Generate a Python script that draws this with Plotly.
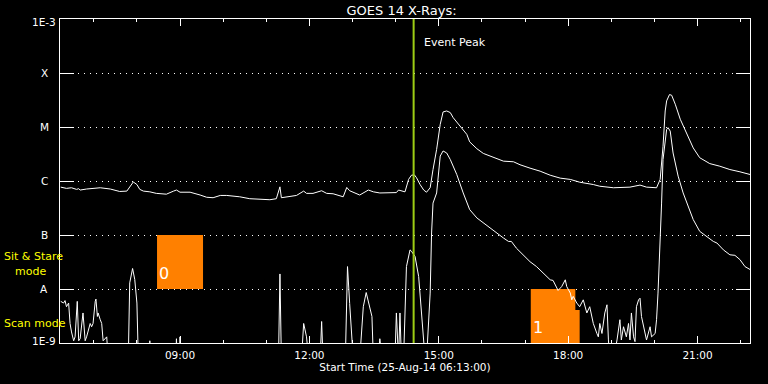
import math
import plotly.graph_objects as go

DATE = "2014-08-25 "

# GOES 14 long channel (1-8 A), W/m^2
long_times = ["06:14","06:22","06:29","06:36","06:39","06:41","06:50","07:09","07:23","07:36",
              "07:46","07:50","07:55","08:00","08:04","08:09","08:18","08:27","08:41","08:51",
              "08:55","09:00","09:14","09:28","09:37","09:46","09:56","10:05","10:23","10:37",
              "10:51","11:05","11:14","11:19","11:21","11:28","11:42","11:52","11:56","12:05",
              "12:17","12:24","12:33","12:47","12:52","12:56","13:10","13:22","13:29","13:38",
              "14:01","14:04","14:08","14:13","14:18","14:22","14:26","14:29","14:34","14:39",
              "14:43","14:48","14:52","14:57","15:02","15:06","15:11","15:16","15:20","15:30",
              "15:39","15:43","15:53","16:02","16:11","16:21","16:30","16:44","16:53","17:07",
              "17:21","17:35","17:49","18:03","18:16","18:35","18:44","19:03","19:26","19:40",
              "19:49","20:03","20:08","20:12","20:15","20:17","20:21","20:24","20:29","20:36",
              "20:45","20:54","21:03","21:17","21:31","21:45","21:59","22:13"]
long_flux = [7.7e-7,7.3e-7,7.5e-7,7.0e-7,7.2e-7,6.8e-7,7.1e-7,7.5e-7,7.1e-7,6.4e-7,
             6.5e-7,7.8e-7,9.6e-7,8.6e-7,7.0e-7,6.5e-7,6.3e-7,5.9e-7,5.7e-7,6.5e-7,
             6.8e-7,6.2e-7,6.2e-7,5.5e-7,5.0e-7,4.9e-7,5.4e-7,5.4e-7,5.1e-7,4.7e-7,
             4.6e-7,4.5e-7,4.7e-7,7.8e-7,4.9e-7,5.1e-7,5.4e-7,6.5e-7,5.9e-7,5.9e-7,
             6.6e-7,5.9e-7,5.8e-7,5.1e-7,7.6e-7,6.6e-7,5.5e-7,6.8e-7,6.3e-7,6.0e-7,
             6.1e-7,6.8e-7,6.6e-7,6.3e-7,1.07e-6,1.28e-6,1.30e-6,1.15e-6,8.6e-7,6.8e-7,
             6.2e-7,7.5e-7,1.63e-6,3.85e-6,1.12e-5,1.90e-5,1.98e-5,1.85e-5,1.49e-5,1.04e-5,
             7.3e-6,5.3e-6,3.96e-6,3.24e-6,2.89e-6,2.62e-6,2.33e-6,2.27e-6,2.00e-6,1.73e-6,
             1.52e-6,1.28e-6,1.13e-6,1.07e-6,9.5e-7,8.6e-7,8.0e-7,7.5e-7,7.7e-7,8.4e-7,
             7.7e-7,7.5e-7,1.07e-6,4.4e-6,1.98e-5,3.04e-5,3.99e-5,3.87e-5,2.64e-5,1.39e-5,
             7.3e-6,4.1e-6,2.7e-6,2.1e-6,1.88e-6,1.63e-6,1.48e-6,1.32e-6]

# GOES 14 short channel (0.5-4 A), W/m^2
short_times = ["06:14","06:18","06:20","06:22","06:25","06:27","06:29","06:32","06:34","06:37",
               "06:39","06:41","06:45","06:48","06:50","06:55","06:57","06:59","07:02","07:03",
               "07:05","07:06","07:09","07:11","07:13","07:18","07:20","07:48","07:50","07:54",
               "07:57","08:00","08:02","08:17","08:18","08:19","08:54","08:55","08:56","08:59",
               "09:00","09:01","11:17","11:19","11:21","11:49","11:52","11:54","11:56","11:59",
               "12:15","12:17","12:19","12:50","12:53","12:56","13:01","13:10","13:13","13:15",
               "13:19","13:22","13:27","13:29","13:36","13:38","13:41","13:59","14:01","14:04",
               "14:06","14:08","14:11","14:15","14:20","14:22","14:27","14:32","14:36","14:41",
               "14:43","14:45","14:48","14:50","14:52","14:57","15:02","15:06","15:11","15:16",
               "15:25","15:34","15:43","15:53","16:02","16:11","16:21","16:30","16:37","16:41",
               "16:48","16:58","17:07","17:16","17:25","17:35","17:39","17:46","17:51","17:56",
               "17:58","18:03","18:05","18:07","18:12","18:16","18:21","18:26","18:30","18:35",
               "18:40","18:42","18:44","18:47","18:51","18:54","18:56","18:58","19:03","19:08",
               "19:12","19:14","19:17","19:21","19:24","19:26","19:28","19:31","19:33","19:35",
               "19:38","19:40","19:42","19:45","19:49","19:54","19:56","20:01","20:03","20:05",
               "20:08","20:10","20:12","20:15","20:17","20:19","20:22","20:26","20:33","20:40",
               "20:47","20:54","21:03","21:13","21:22","21:27","21:36","21:45","21:52","21:59",
               "22:06","22:13"]
short_flux = [5.9e-9,5.5e-9,6.1e-9,4.7e-9,5.5e-9,2.3e-9,1.6e-9,1.1e-9,1.3e-9,5.9e-9,
              1.1e-9,1.2e-9,3.6e-9,1.1e-9,1.3e-9,2.3e-9,2.0e-9,2.3e-9,5.9e-9,6.5e-9,
              3.1e-9,3.6e-9,2.7e-9,2.3e-9,1.1e-9,1.3e-9,5e-10,5e-10,1.3e-8,2.4e-8,
              1.5e-8,5.5e-9,5e-10,5e-10,1.1e-9,5e-10,5e-10,1.2e-9,5e-10,5e-10,
              1.3e-9,5e-10,5e-10,1.9e-8,5e-10,5e-10,2.3e-9,1.6e-9,1.3e-9,5e-10,
              5e-10,2.5e-9,5e-10,5e-10,2.6e-8,5.4e-9,5e-10,5e-10,1.7e-9,4.7e-9,
              8.6e-9,5.9e-9,3.1e-9,5e-10,5e-10,1.2e-9,5e-10,5e-10,3.6e-9,5e-10,
              3.6e-9,5e-10,5e-10,2.6e-8,5.3e-8,5.0e-8,4.0e-8,1.7e-8,3.1e-9,5e-10,
              5e-10,2.0e-9,8.4e-9,1.09e-7,3.9e-7,6.0e-7,2.9e-6,3.6e-6,3.3e-6,2.5e-6,
              1.32e-6,6.0e-7,2.95e-7,2.07e-7,1.67e-7,1.35e-7,1.09e-7,8.8e-8,7.6e-8,7.6e-8,
              5.7e-8,4.3e-8,3.2e-8,2.6e-8,2.0e-8,1.48e-8,1.44e-8,9.4e-9,1.11e-8,1.48e-8,
              1.11e-8,8.4e-9,6.3e-9,7.3e-9,5.5e-9,4.7e-9,6.3e-9,3.6e-9,4.7e-9,2.3e-9,
              1.5e-9,1.3e-9,2.3e-9,1.5e-9,3.6e-9,5.1e-9,1.14e-9,5e-10,5e-10,1.14e-9,
              2.7e-9,1.14e-9,2.0e-9,1.3e-9,2.3e-9,1.14e-9,3.6e-9,1.3e-9,1.06e-9,4.7e-9,
              6.3e-9,6.75e-9,3.1e-9,2.0e-9,1.14e-9,2.0e-9,1.3e-9,1.5e-9,2.7e-9,8.4e-9,
              6.2e-8,3.9e-7,2.5e-6,5.5e-6,9.0e-6,9.7e-6,8.4e-6,3.3e-6,1.23e-6,6.0e-7,
              3.4e-7,1.93e-7,1.17e-7,9.4e-8,7.6e-8,7.1e-8,5.3e-8,4.3e-8,4.2e-8,3.5e-8,
              2.6e-8,2.3e-8]

y_tick_vals = [1e-9, 1e-8, 1e-7, 1e-6, 1e-5, 1e-4, 1e-3]
y_tick_labels = ["1E-9", "A", "B", "C", "M", "X", "1E-3"]
x_tick_labels = ["09:00", "12:00", "15:00", "18:00", "21:00"]
x_start, x_end = "06:13", "22:13"
event_peak_time = "14:25"

# IRIS observation windows (polygons: times, fluxes)
obs_names = ["0", "1"]
obs_times = [["08:28", "08:28", "09:32", "09:32"],
             ["17:08", "17:08", "18:10", "18:10", "18:16", "18:16"]]
obs_flux = [[1e-8, 1e-7, 1e-7, 1e-8],
            [1e-9, 1e-8, 1e-8, 4.1e-9, 4.1e-9, 1e-9]]
mode_labels = [("Sit & Stare", 2, 257), ("mode", 13, 271.5), ("Scan mode", 2, 323.5)]

FONT = "DejaVu Sans"
fig = go.Figure()

for t, f in zip(obs_times, obs_flux):
    fig.add_trace(go.Scatter(x=[DATE + s for s in t], y=f, mode="lines", fill="toself",
                             fillcolor="#FF8000", line=dict(color="#FF8000", width=0),
                             hoverinfo="skip"))

fig.add_trace(go.Scatter(x=[DATE + t for t in long_times], y=long_flux, mode="lines",
                         line=dict(color="white", width=1), name="1-8 A"))
fig.add_trace(go.Scatter(x=[DATE + t for t in short_times], y=short_flux, mode="lines",
                         line=dict(color="white", width=1), name="0.5-4 A"))

fig.add_shape(type="line", xref="x", yref="paper",
              x0=DATE + event_peak_time, x1=DATE + event_peak_time, y0=0, y1=1,
              line=dict(color="#9CCC14", width=2))

ann = []
ann.append(dict(x=DATE + event_peak_time, y=0.928, xref="x", yref="paper", text="Event Peak",
                showarrow=False, xanchor="left", yanchor="middle", xshift=8,
                font=dict(size=11, color="white", family=FONT)))
for v, lab in zip(y_tick_vals, y_tick_labels):
    ann.append(dict(x=-16 / 690, y=math.log10(v), xref="paper", yref="y", text=lab,
                    showarrow=False, xanchor="center", yanchor="middle",
                    yshift=(-3 if v == max(y_tick_vals) else (2 if v == min(y_tick_vals) else 0)),
                    font=dict(size=10.5, color="white", family=FONT)))
for text, px, py in mode_labels:
    ann.append(dict(x=(px - 60) / 690, y=(343.3 - py) / 324, xref="paper", yref="paper",
                    text=text, showarrow=False, xanchor="left", yanchor="middle",
                    font=dict(size=11, color="#FFFF00", family=FONT)))
for name, t, f in zip(obs_names, obs_times, obs_flux):
    ann.append(dict(x=DATE + t[0], y=math.log10(min(f)), xref="x", yref="y", text=name,
                    showarrow=False, xanchor="left", yanchor="bottom", yshift=4,
                    font=dict(size=16, color="white", family=FONT)))

fig.update_layout(
    width=768, height=384,
    margin=dict(l=60, r=18, t=19, b=41),
    paper_bgcolor="black", plot_bgcolor="black",
    font=dict(family=FONT, color="white", size=10.5),
    showlegend=False,
    title=dict(text="GOES 14 X-Rays:", x=0.495, xref="paper", xanchor="center",
               y=1 - 10 / 384, yanchor="middle", font=dict(size=13, color="white", family=FONT)),
    annotations=ann,
)
fig.update_xaxes(
    type="date", range=[DATE + x_start, DATE + x_end],
    tickmode="array", tickvals=[DATE + t for t in x_tick_labels], ticktext=x_tick_labels,
    ticks="inside", ticklen=7, tickcolor="white", tickwidth=1,
    showline=True, linecolor="white", linewidth=1, mirror="allticks",
    showgrid=False, zeroline=False, ticklabelstandoff=2,
    tickfont=dict(size=10.5, color="white", family=FONT),
    minor=dict(tickmode="linear", tick0=DATE + "00:00", dtick=3600000, ticks="inside",
               ticklen=3, tickcolor="white", showgrid=False),
    title=dict(text="Start Time (25-Aug-14 06:13:00)", standoff=3,
               font=dict(size=10.5, color="white", family=FONT)),
)
fig.update_yaxes(
    type="log", range=[-9, -3],
    tickmode="array", tickvals=y_tick_vals[1:-1],
    ticks="inside", ticklen=14, tickcolor="white", tickwidth=1,
    showticklabels=False,
    showline=True, linecolor="white", linewidth=1, mirror="allticks",
    showgrid=True, gridcolor="white", gridwidth=1, griddash="1px,5px",
    zeroline=False,
)

fig.write_html("out.html", config={"displayModeBar": False},
               post_script="document.body.style.margin='0';document.body.style.background='black';")
